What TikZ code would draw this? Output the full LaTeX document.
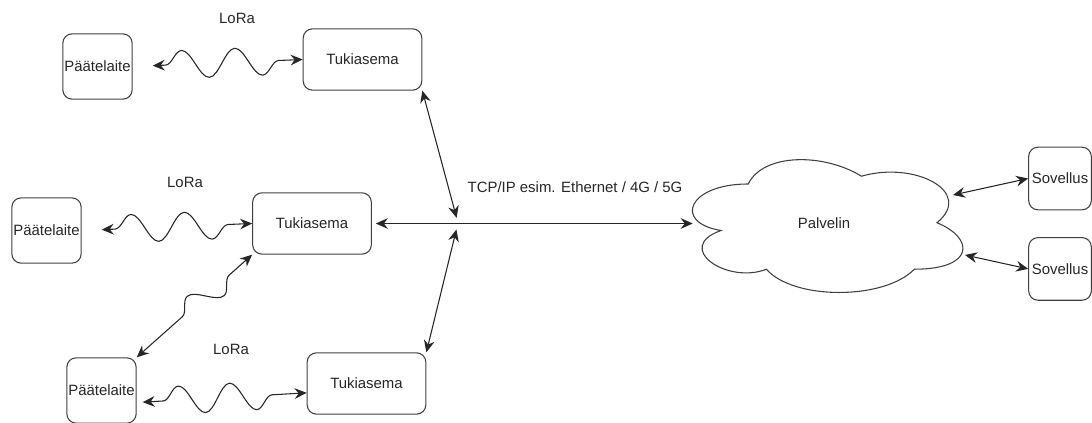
\documentclass[tikz,border=0pt]{standalone}
\usepackage{fontspec}
\setmainfont{Liberation Sans}
\usepackage{tikz}
\usetikzlibrary{arrows.meta, positioning, decorations.pathmorphing}
\tikzstyle{arrow} = [line width=0.8pt, draw=black!85,
        {Stealth[length=9pt, width=8pt, inset=3pt]}-{Stealth[length=9pt, width=8pt, inset=3pt]}]

\begin{document}
\begin{tikzpicture}[
        x=0.75pt, y=-0.75pt,
        every node/.style={font=\fontsize{11.2}{13}\selectfont, text=black!85},
        block/.style={rectangle, rounded corners=7pt, draw=black!75, line width=0.8pt,
            inner sep=0pt, minimum width=89pt, minimum height=46pt, text centered},
        device/.style={block, minimum width=52pt, minimum height=49pt},
        app/.style={block, minimum width=47pt, minimum height=47pt},
        server/.style={rectangle, inner sep=0pt, minimum width=226.5pt,
            minimum height=116.25pt},
        cloudline/.style={draw=black!75, line width=0.8pt},
        lora/.style={arrow, decorate, decoration={snake, segment length=40pt,
            amplitude=10.5pt, pre length=18pt, post length=16.5pt}}
    ]
    \useasboundingbox (0,0) rectangle (1092,423);
    \node (base1)  [block]  at (362.5,59.5) {Tukiasema};
    \node (base2)  [block]  at (312,223.5)  {Tukiasema};
    \node (base3)  [block]  at (366.5,383.5) {Tukiasema};
    \node (dev1)   [device] at (97.5,66.5)  {Päätelaite};
    \node (dev2)   [device] at (46.5,230.5) {Päätelaite};
    \node (dev3)   [device] at (101.5,390.5) {Päätelaite};
    \node (server) [server] at (824,223) {Palvelin};
    \node (app1)   [app]    at (1060,178.5) {Sovellus};
    \node (app2)   [app, below=20pt of app1] {Sovellus};
    \coordinate (hub) at (458,223);
    \coordinate (serverin) at ([xshift=15pt]server.west);

    % cloud outline round the server node
    \draw [cloudline, shift={(server.north west)}, x=226.5pt, y=-116.25pt]
        (0.25,0.25) .. controls (0.05,0.25) and (0,0.5) .. (0.16,0.55)
        .. controls (0,0.66) and (0.18,0.9) .. (0.31,0.8)
        .. controls (0.4,1) and (0.7,1) .. (0.8,0.8)
        .. controls (1,0.8) and (1,0.6) .. (0.875,0.5)
        .. controls (1,0.3) and (0.8,0.1) .. (0.625,0.2)
        .. controls (0.5,0.05) and (0.3,0.05) .. (0.25,0.25) -- cycle;

    \node (lora1) at (237,18)  {LoRa};
    \node (lora2) at (185,182) {LoRa};
    \node (lora3) at (231,349) {LoRa};
    \node (tcp)   at (575,187) {TCP/IP esim. Ethernet / 4G / 5G};

    \draw [lora, shorten >=15pt] (base1.west) -- (dev1.east);
    \draw [lora, shorten >=15pt] (base2.west) -- (dev2.east);
    \draw [lora, shorten >=4.5pt, decoration={segment length=38.5pt,
        pre length=26pt, post length=17pt}]
        ([yshift=-7pt]base3.west) -- ([yshift=-9pt]dev3.east);
    \draw [lora, decoration={segment length=42pt, amplitude=9pt,
        pre length=23pt, post length=30pt}]
        (base2.south west) -- (dev3.north east);
    \draw [arrow, shorten <=3pt] (base2.east) -- (base2.east -| serverin);
    \draw [arrow, shorten >=4pt] (base1.south east) -- (hub);
    \draw [arrow, shorten <=5pt] (hub) -- (base3.north east);
    \draw [arrow] ([shift={(129,-28)}]server.center) -- (app1.west);
    \draw [arrow] ([shift={(141,32)}]server.center)  -- (app2.west);
\end{tikzpicture}
\end{document}
